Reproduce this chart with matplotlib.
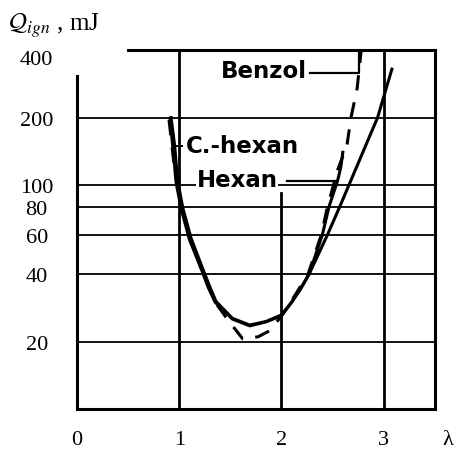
import matplotlib
matplotlib.use('Agg')
import matplotlib.pyplot as plt
import numpy as np

plt.rcParams['font.family'] = ['Liberation Serif', 'DejaVu Serif']
plt.rcParams['mathtext.fontset'] = 'stix'

# 點火能量 Q_ign 與當量比 λ 的關係（讀圖數值）
lam_chexan = [0.91, 0.94, 0.97, 1.02, 1.10, 1.20, 1.28, 1.35, 1.52, 1.69,
              1.85, 2.00, 2.10, 2.18, 2.27, 2.45, 2.57, 2.66, 2.94, 3.08]
q_chexan = [198, 143, 102, 78, 57, 44, 35.3, 30, 25.2, 23.5,
            24.5, 26.1, 30, 34, 40, 60, 80, 100, 200, 329]

lam_hexan = [0.92, 0.955, 0.985, 1.035, 1.115, 1.215, 1.295, 1.36, 1.52, 1.69,
             1.85, 2.00, 2.10, 2.18, 2.27, 2.40, 2.465, 2.55, 2.58, 2.60]
q_hexan = [200, 150, 104, 79, 58, 44, 35.5, 30.2, 25.4, 23.7,
           24.6, 26.3, 30, 34, 40, 60, 80, 105, 120, 140]

lam_benzol = [0.90, 0.96, 1.02, 1.10, 1.20, 1.28, 1.35, 1.49, 1.62, 1.77,
              1.88, 2.00, 2.11, 2.26, 2.39, 2.45, 2.55, 2.64, 2.68, 2.74, 2.78]
q_benzol = [195, 112, 80, 58, 44, 35.5, 30, 24.5, 20.6, 21,
            22.3, 26, 31, 40, 60, 80, 117, 150, 200, 270, 400]

y_ticks = [20, 40, 60, 80, 100, 200, 400]
y_ticklabels = ['20', '40', '60', '80', '100', '200', '400']
x_ticks = [0, 1, 2, 3]
x_ticklabels = ['0', '1', '2', '3']
grid_q = [20, 40, 60, 80, 100, 200]

fig = plt.figure(figsize=(4.57, 4.52), dpi=100)
ax = fig.add_axes([0.1685, 0.0929, 0.783, 0.794])
ax.set_yscale('log')
ax.set_xlim(0, 3.5)
ax.set_ylim(10, 400)

# 外框：下、右用 spines，上、左只畫一部分
for s in ['top', 'left']:
    ax.spines[s].set_visible(False)
for s in ['bottom', 'right']:
    ax.spines[s].set_linewidth(2.2)


def yfrac(q):
    return np.log10(q / 10) / np.log10(40)


ax.axvline(0, ymin=0, ymax=yfrac(307), color='k', lw=2.2, clip_on=False)
ax.axhline(400, xmin=0.5 / 3.5, xmax=1, color='k', lw=2.2, clip_on=False)

# 格線
for q in grid_q:
    ax.axhline(q, color='k', lw=1.3, zorder=1)
ax.axvline(1, color='k', lw=2.0, zorder=1)
ax.axvline(3, color='k', lw=2.0, zorder=1)
ax.axvline(2, ymin=0, ymax=yfrac(92), color='k', lw=2.0, zorder=1)

# 曲線
ax.plot(lam_chexan, q_chexan, color='k', lw=2.2, zorder=3)
ax.plot(lam_hexan, q_hexan, color='k', lw=2.2, zorder=3)
ax.plot(lam_benzol, q_benzol, color='k', lw=2.2, ls=(0, (5, 4)), zorder=3)

# 曲線標示
lab = dict(fontsize=16.5, fontweight='bold', family='DejaVu Sans', color='k', zorder=4)
ax.text(1.83, 323, 'Benzol', ha='center', va='center', **lab)
ax.plot([2.28, 2.76, 2.76], [315, 315, 398], color='k', lw=1.6, zorder=3)
ax.text(1.06, 150, 'C.-hexan', ha='left', va='center', **lab)
ax.plot([0.96, 1.03], [150, 150], color='k', lw=1.4, zorder=3)
ax.text(1.17, 106, 'Hexan', ha='left', va='center',
        bbox=dict(facecolor='white', edgecolor='none', pad=0.5), **lab)
ax.plot([2.05, 2.54], [104, 104], color='k', lw=1.6, zorder=3)

ax.set_yticks(y_ticks)
ax.set_yticklabels(y_ticklabels)
ax.minorticks_off()
ax.set_xticks(x_ticks)
ax.set_xticklabels(x_ticklabels)
ax.tick_params(axis='y', length=0, pad=29, labelsize=16)
ax.tick_params(axis='x', length=0, pad=15, labelsize=16)
for t in ax.get_yticklabels():
    t.set_ha('center')
ax.get_yticklabels()[-1].set_va('top')

fig.text(448 / 457, 1 - 441 / 452, 'λ', ha='center', va='center', fontsize=16)
fig.text(8 / 457, 1 - 31 / 452, r'$\mathcal{Q}_{ign}$ , mJ', fontsize=18, va='baseline')

fig.savefig('out.png', dpi=100)
